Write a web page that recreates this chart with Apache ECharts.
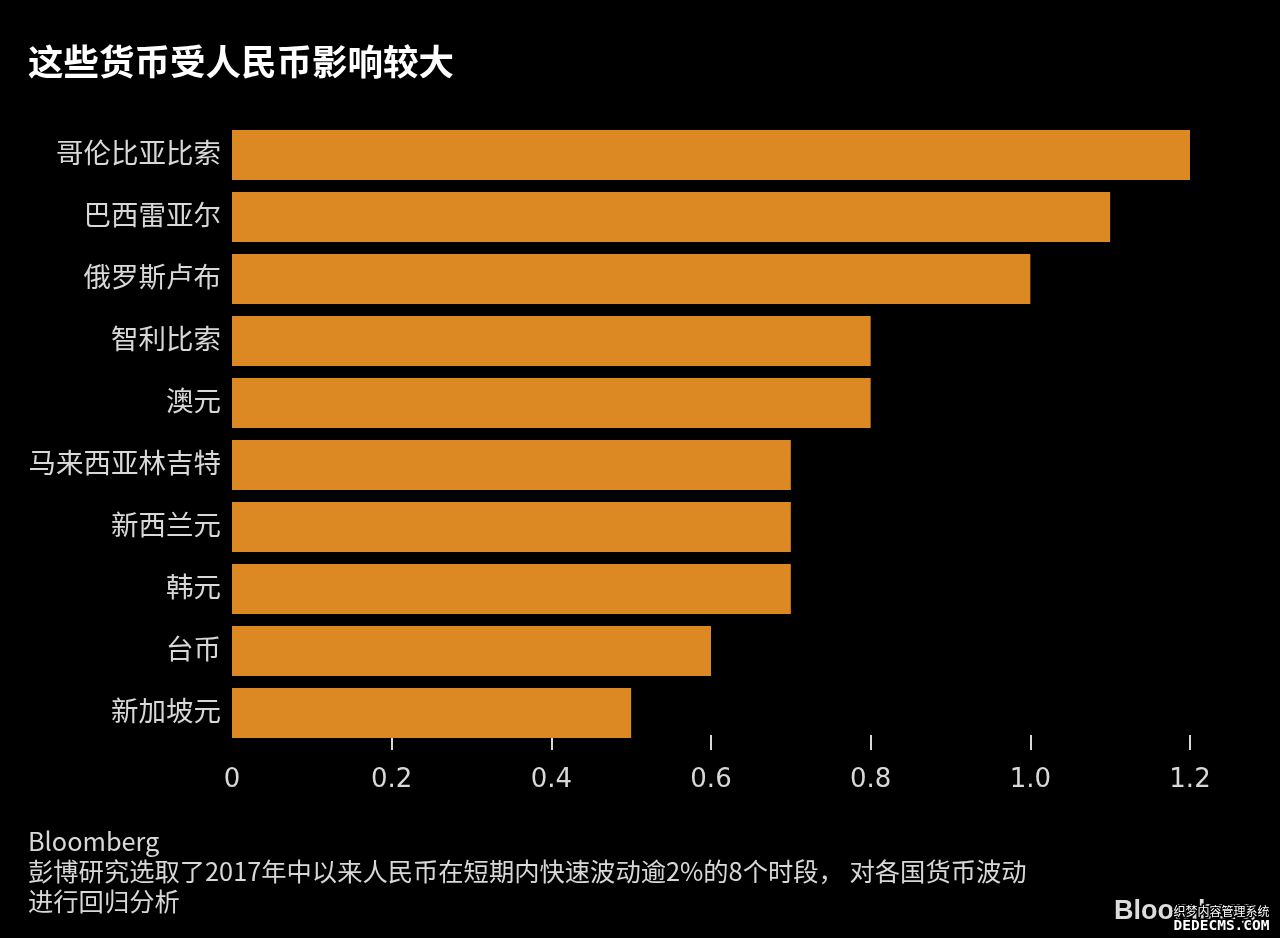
<!DOCTYPE html>
<html>
<head>
<meta charset="utf-8">
<style>
  html, body { margin: 0; padding: 0; background: #000; }
  #chart { width: 1280px; height: 938px; }
</style>
<script src="https://cdn.jsdelivr.net/npm/echarts@6/dist/echarts.min.js"></script>
</head>
<body>
<div id="chart"></div>
<script>
var titleText = '这些货币受人民币影响较大'
var currencies = ['哥伦比亚比索', '巴西雷亚尔', '俄罗斯卢布', '智利比索', '澳元', '马来西亚林吉特', '新西兰元', '韩元', '台币', '新加坡元']
var betas = [1.2, 1.1, 1.0, 0.8, 0.8, 0.7, 0.7, 0.7, 0.6, 0.5]
var tickValues = [0.2, 0.4, 0.6, 0.8, 1, 1.2]
var tickLabels = { '0': '0', '0.2': '0.2', '0.4': '0.4', '0.6': '0.6', '0.8': '0.8', '1': '1.0', '1.2': '1.2' }
var noteLines = ['Bloomberg', '彭博研究选取了2017年中以来人民币在短期内快速波动逾2%的8个时段， 对各国货币波动', '进行回归分析']
var logoText = 'Bloomberg'
var watermarkLines = ['织梦内容管理系统', 'DEDECMS.COM']

var font = '"Noto Sans CJK SC", "Noto Sans", sans-serif'
var chart = echarts.init(document.getElementById('chart'), null, { renderer: 'canvas' })

chart.setOption({
  backgroundColor: '#000000',
  animation: false,
  title: {
    text: titleText,
    left: 23,
    top: 39,
    textStyle: { color: '#ffffff', fontSize: 35.5, fontWeight: 'bold', fontFamily: font }
  },
  grid: { left: 232, top: 124, width: 958, height: 620 },
  xAxis: {
    type: 'value',
    min: 0,
    max: 1.2,
    interval: 0.2,
    offset: -9,
    splitLine: { show: false },
    axisLine: { show: false },
    // no tick under the 0, the bars sit on top of the rest
    axisTick: { show: true, length: 15, customValues: tickValues, lineStyle: { color: '#d8d8d8', width: 2 } },
    axisLabel: {
      color: '#d8d8d8',
      fontSize: 26,
      fontFamily: '"DejaVu Sans", sans-serif',
      margin: 32,
      formatter: function (v) { return tickLabels[String(v)] }
    }
  },
  yAxis: {
    type: 'category',
    inverse: true,
    data: currencies,
    axisLine: { show: false },
    axisTick: { show: false },
    // labels sit 2px above the bar centres
    axisLabel: { color: '#d8d8d8', fontSize: 27.5, fontFamily: font, margin: 11, verticalAlign: 'bottom', lineHeight: 4 }
  },
  series: [{
    type: 'bar',
    data: betas,
    barWidth: 50,
    itemStyle: { color: '#dc8823' }
  }],
  graphic: [{
    type: 'text',
    left: 28,
    top: 826,
    style: {
      text: noteLines.join('\n'),
      fill: '#d8d8d8',
      font: '25.3px ' + font,
      lineHeight: 30
    }
  }, {
    type: 'text',
    left: 1114,
    top: 898,
    style: {
      text: logoText,
      fill: '#dcdcdc',
      font: 'bold 27px "Liberation Sans", sans-serif'
    }
  }, {
    type: 'text',
    left: 1172,
    top: 904,
    style: {
      text: watermarkLines[0],
      fill: '#ffffff',
      stroke: '#000000',
      lineWidth: 3,
      font: '12px ' + font
    }
  }, {
    type: 'text',
    left: 1172,
    top: 917,
    style: {
      text: watermarkLines[1],
      fill: '#ffffff',
      stroke: '#000000',
      lineWidth: 3,
      font: 'bold 14.5px "DejaVu Sans Mono", monospace'
    }
  }]
})
</script>
</body>
</html>
